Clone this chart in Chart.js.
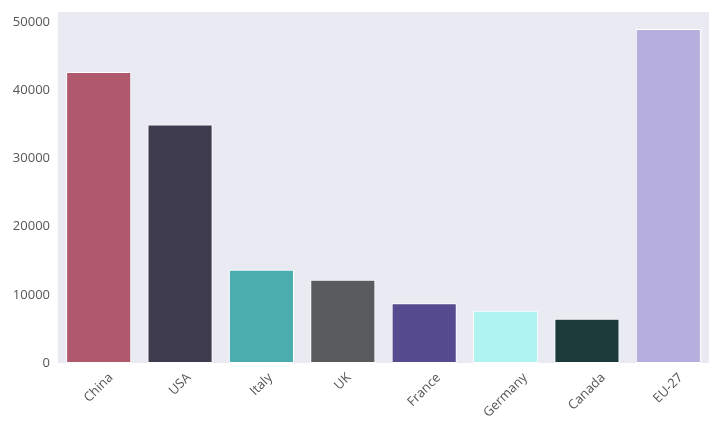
<!DOCTYPE html>
<html>
<head>
<meta charset="utf-8">
<script src="https://cdn.jsdelivr.net/npm/chart.js@4"></script>
<style>
  html, body { margin: 0; padding: 0; background: #fff; }
  #wrap { width: 720px; height: 432px; }
</style>
</head>
<body>
<div id="wrap"><canvas id="chart" width="720" height="432"></canvas></div>
<script>
// data
const countries = ['China', 'USA', 'Italy', 'UK', 'France', 'Germany', 'Canada', 'EU-27'];
const values = [42700, 35000, 13700, 12200, 8750, 7650, 6500, 49000];
const barColors = ['#B0596C', '#3E3C4E', '#4BADAD', '#5A5B5D', '#574B8F', '#AFF4F1', '#1C3A3A', '#B6AFDE'];
const yTicks = [0, 10000, 20000, 30000, 40000, 50000];

const FONT = '"Open Sans", "DejaVu Sans", sans-serif';
const TEXT = '#555555';

// seaborn-like grey plot background
const bgPlugin = {
    id: 'bg',
    beforeDraw(chart) {
        const { ctx, chartArea: a } = chart;
        ctx.save();
        ctx.fillStyle = '#EAEAF2';
        ctx.fillRect(a.left, a.top, a.right - a.left, a.bottom - a.top);
        ctx.restore();
    }
};

// rotated x labels, centred under each bar like matplotlib does
const xLabelPlugin = {
    id: 'xlabels',
    afterDraw(chart) {
        const { ctx, chartArea: a } = chart;
        const x = chart.scales.x;
        const size = 13;
        ctx.save();
        ctx.font = size + 'px ' + FONT;
        ctx.fillStyle = TEXT;
        ctx.textAlign = 'center';
        ctx.textBaseline = 'middle';
        const c = Math.SQRT1_2;
        countries.forEach((name, i) => {
            const w = ctx.measureText(name).width;
            const boxH = (w + size) * c;
            const cx = x.getPixelForTick(i);
            const cy = a.bottom + 8 + boxH / 2;
            ctx.save();
            ctx.translate(cx, cy);
            ctx.rotate(-Math.PI / 4);
            ctx.fillText(name, 0, 0);
            ctx.restore();
        });
        ctx.restore();
    }
};

new Chart(document.getElementById('chart').getContext('2d'), {
    type: 'bar',
    data: {
        labels: countries,
        datasets: [{
            data: values,
            backgroundColor: barColors,
            borderColor: '#FFFFFF',
            borderWidth: 1,
            borderSkipped: false,
            barPercentage: 0.8,
            categoryPercentage: 1.0
        }]
    },
    options: {
        responsive: false,
        animation: false,
        layout: { padding: { top: 12, right: 11, left: 0, bottom: 0 } },
        plugins: {
            legend: { display: false },
            tooltip: { enabled: false }
        },
        scales: {
            x: {
                grid: { display: false, drawTicks: false },
                border: { display: false },
                ticks: { display: false },
                afterFit: s => { s.height = 69; }
            },
            y: {
                min: 0,
                max: 51500,
                grid: { display: false, drawTicks: false },
                border: { display: false },
                ticks: {
                    padding: 8,
                    color: TEXT,
                    font: { family: FONT, size: 13 },
                    callback: v => String(v)
                },
                afterBuildTicks: s => { s.ticks = yTicks.map(v => ({ value: v })); },
                afterFit: s => { s.width = 58; s.paddingTop = 0; s.paddingBottom = 0; }
            }
        }
    },
    plugins: [bgPlugin, xLabelPlugin]
});
</script>
</body>
</html>
